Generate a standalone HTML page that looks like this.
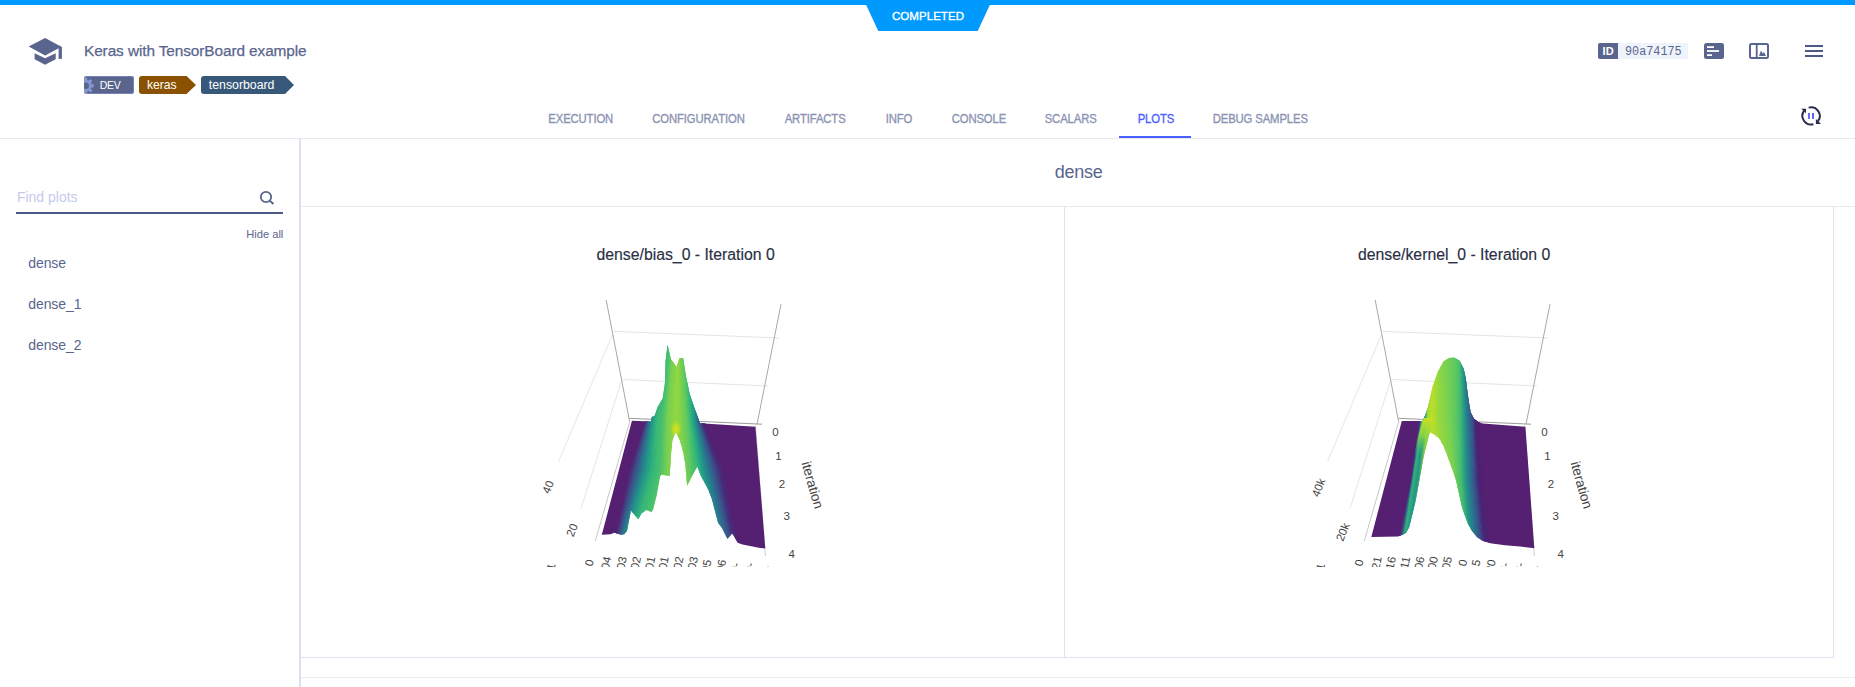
<!DOCTYPE html>
<html><head><meta charset="utf-8"><style>
html,body{margin:0;padding:0;}
body{width:1855px;height:687px;overflow:hidden;position:relative;background:#fff;font-family:'Liberation Sans', sans-serif;}
</style></head><body>
<div style="position:absolute;left:0px;top:0px;width:1855px;height:5px;background:#009aff;"></div>
<svg style="position:absolute;left:0;top:0" width="1855" height="40"><polygon points="865.7,4 990.3,4 977.7,31 878.3,31" fill="#009aff"/></svg>
<div style="position:absolute;left:528px;width:800px;text-align:center;top:10.77px;font-size:11.5px;line-height:11.5px;color:#ffffff;font-weight:400;letter-spacing:0.05px;font-family:'Liberation Sans', sans-serif;white-space:nowrap;-webkit-text-stroke:0.35px #ffffff;">COMPLETED</div>
<svg style="position:absolute;left:28px;top:36px" width="36" height="30" viewBox="0 0 36 30">
<polygon points="0.7,10.5 17.1,2.1 33.5,10.8 17.1,19.6" fill="#5a658e"/>
<polygon points="6.6,17.2 17.1,22.3 27.7,17.2 27.7,23.2 17.1,28.7 6.6,23.2" fill="#5a658e"/>
<rect x="30.6" y="10.8" width="3.3" height="12.1" fill="#5a658e"/>
</svg>
<div style="position:absolute;left:84px;top:42.76px;font-size:15.4px;line-height:15.4px;color:#5a658e;font-weight:400;letter-spacing:-0.1px;font-family:'Liberation Sans', sans-serif;white-space:nowrap;-webkit-text-stroke:0.25px #5a658e;">Keras with TensorBoard example</div>
<div style="position:absolute;left:84px;top:76px;width:50px;height:18px;background:#5a658e;border-radius:3px;box-shadow:inset 0 0 0 1px #7482bb;overflow:hidden"><svg style="position:absolute;left:-7px;top:0.5px" width="17.5" height="17.5" viewBox="0 0 16 16"><g fill="#8595cf"><circle cx="8" cy="8" r="5.6"/><rect x="6.6" y="0.6" width="2.8" height="14.8"/><rect x="0.6" y="6.6" width="14.8" height="2.8"/><rect x="6.6" y="0.6" width="2.8" height="14.8" transform="rotate(45 8 8)"/><rect x="6.6" y="0.6" width="2.8" height="14.8" transform="rotate(-45 8 8)"/></g><circle cx="8" cy="8" r="2.9" fill="#5a658e"/></svg></div>
<div style="position:absolute;left:99.7px;top:80.01px;font-size:10.5px;line-height:10.5px;color:#ffffff;font-weight:400;letter-spacing:-0.3px;font-family:'Liberation Sans', sans-serif;white-space:nowrap;">DEV</div>
<svg style="position:absolute;left:139px;top:76px" width="60" height="18"><path d="M3,0 H47.5 L57,9 L47.5,18 H3 Q0,18 0,15 V3 Q0,0 3,0 Z" fill="#8a5200"/></svg>
<div style="position:absolute;left:146.9px;top:78.87px;font-size:12.2px;line-height:12.2px;color:#ffffff;font-weight:400;letter-spacing:0px;font-family:'Liberation Sans', sans-serif;white-space:nowrap;">keras</div>
<svg style="position:absolute;left:201px;top:76px" width="95" height="18"><path d="M3,0 H84 L93,9 L84,18 H3 Q0,18 0,15 V3 Q0,0 3,0 Z" fill="#38587a"/></svg>
<div style="position:absolute;left:208.8px;top:78.79px;font-size:12.3px;line-height:12.3px;color:#ffffff;font-weight:400;letter-spacing:0px;font-family:'Liberation Sans', sans-serif;white-space:nowrap;">tensorboard</div>
<div style="position:absolute;left:1598px;top:43px;width:90px;height:16px;background:#eff3fc;border-radius:1px"></div>
<div style="position:absolute;left:1598px;top:43px;width:20px;height:16px;background:#5a658e;border-radius:2px 0 0 2px"></div>
<div style="position:absolute;left:1602.6px;top:45.59px;font-size:11px;line-height:11px;color:#ffffff;font-weight:700;letter-spacing:0px;font-family:'Liberation Sans', sans-serif;white-space:nowrap;">ID</div>
<div style="position:absolute;left:1625px;top:47.26px;font-size:11.8px;line-height:11.8px;color:#5a658e;font-weight:400;letter-spacing:0px;font-family:'Liberation Mono', monospace;white-space:nowrap;transform:scaleY(1.16);transform-origin:0 76.65%;">90a74175</div>
<svg style="position:absolute;left:1704px;top:43px" width="20" height="16"><rect x="0" y="0" width="20" height="16" rx="2.5" fill="#5a658e"/>
<rect x="3" y="3.2" width="7" height="1.8" fill="#fff"/><rect x="3" y="7.1" width="12" height="1.8" fill="#fff"/><rect x="3" y="11.2" width="5" height="1.8" fill="#fff"/></svg>
<svg style="position:absolute;left:1749px;top:43px" width="20" height="16"><rect x="1" y="1" width="18" height="14" rx="1.5" fill="none" stroke="#5a658e" stroke-width="2"/>
<rect x="6.8" y="1" width="1.8" height="14" fill="#5a658e"/><polygon points="10,13 12,7.5 13.8,10.5 15,9 17,13" fill="#5a658e"/></svg>
<svg style="position:absolute;left:1805px;top:43px" width="18" height="16"><rect x="0" y="2" width="18" height="2" fill="#4d5a86"/><rect x="0" y="7" width="18" height="2" fill="#4d5a86"/><rect x="0" y="12" width="18" height="2" fill="#4d5a86"/></svg>
<div style="position:absolute;left:548.3000000000001px;top:113.73px;font-size:11.3px;line-height:11.3px;color:#8b93b3;font-weight:400;letter-spacing:-0.12px;font-family:'Liberation Sans', sans-serif;white-space:nowrap;-webkit-text-stroke:0.3px #8b93b3;transform:scaleY(1.07);transform-origin:0 84.65%;">EXECUTION</div>
<div style="position:absolute;left:652.3000000000001px;top:113.73px;font-size:11.3px;line-height:11.3px;color:#8b93b3;font-weight:400;letter-spacing:-0.12px;font-family:'Liberation Sans', sans-serif;white-space:nowrap;-webkit-text-stroke:0.3px #8b93b3;transform:scaleY(1.07);transform-origin:0 84.65%;">CONFIGURATION</div>
<div style="position:absolute;left:784.7px;top:113.73px;font-size:11.3px;line-height:11.3px;color:#8b93b3;font-weight:400;letter-spacing:-0.12px;font-family:'Liberation Sans', sans-serif;white-space:nowrap;-webkit-text-stroke:0.3px #8b93b3;transform:scaleY(1.07);transform-origin:0 84.65%;">ARTIFACTS</div>
<div style="position:absolute;left:885.7px;top:113.73px;font-size:11.3px;line-height:11.3px;color:#8b93b3;font-weight:400;letter-spacing:-0.12px;font-family:'Liberation Sans', sans-serif;white-space:nowrap;-webkit-text-stroke:0.3px #8b93b3;transform:scaleY(1.07);transform-origin:0 84.65%;">INFO</div>
<div style="position:absolute;left:951.7px;top:113.73px;font-size:11.3px;line-height:11.3px;color:#8b93b3;font-weight:400;letter-spacing:-0.12px;font-family:'Liberation Sans', sans-serif;white-space:nowrap;-webkit-text-stroke:0.3px #8b93b3;transform:scaleY(1.07);transform-origin:0 84.65%;">CONSOLE</div>
<div style="position:absolute;left:1044.7px;top:113.73px;font-size:11.3px;line-height:11.3px;color:#8b93b3;font-weight:400;letter-spacing:-0.12px;font-family:'Liberation Sans', sans-serif;white-space:nowrap;-webkit-text-stroke:0.3px #8b93b3;transform:scaleY(1.07);transform-origin:0 84.65%;">SCALARS</div>
<div style="position:absolute;left:1137.7px;top:113.73px;font-size:11.3px;line-height:11.3px;color:#4d5eff;font-weight:400;letter-spacing:-0.12px;font-family:'Liberation Sans', sans-serif;white-space:nowrap;-webkit-text-stroke:0.3px #4d5eff;transform:scaleY(1.07);transform-origin:0 84.65%;">PLOTS</div>
<div style="position:absolute;left:1212.7px;top:113.73px;font-size:11.3px;line-height:11.3px;color:#8b93b3;font-weight:400;letter-spacing:-0.12px;font-family:'Liberation Sans', sans-serif;white-space:nowrap;-webkit-text-stroke:0.3px #8b93b3;transform:scaleY(1.07);transform-origin:0 84.65%;">DEBUG SAMPLES</div>
<div style="position:absolute;left:0px;top:138px;width:1855px;height:1px;background:#e9e9ee;"></div>
<div style="position:absolute;left:1119px;top:136px;width:72px;height:2px;background:#4d5eff;"></div>
<svg style="position:absolute;left:1799px;top:104px" width="24" height="24" viewBox="0 0 24 24">
<path d="M9.6,3.6 A8.7,8.7 0 0 1 18.9,17.3" fill="none" stroke="#272c4f" stroke-width="2"/>
<polygon points="16.9,20 16.9,15 22,20" fill="#272c4f"/>
<path d="M14.4,20.2 A8.7,8.7 0 0 1 5.1,6.7" fill="none" stroke="#272c4f" stroke-width="2"/>
<polygon points="7,4.8 2.2,4.8 7,9.3" fill="#272c4f"/>
<rect x="9.1" y="8.9" width="1.8" height="6" fill="#5b5df5"/><rect x="13.1" y="8.9" width="1.9" height="6" fill="#5b5df5"/>
</svg>
<div style="position:absolute;left:299px;top:139px;width:2px;height:548px;background:#dcdff0;"></div>
<div style="position:absolute;left:16.9px;top:190.15px;font-size:14px;line-height:14px;color:#c3cbee;font-weight:400;letter-spacing:0px;font-family:'Liberation Sans', sans-serif;white-space:nowrap;">Find plots</div>
<div style="position:absolute;left:16px;top:212px;width:267px;height:2px;background:#4d5a86;"></div>
<svg style="position:absolute;left:258px;top:189px" width="20" height="18"><circle cx="8" cy="8" r="5.2" fill="none" stroke="#5a658e" stroke-width="1.8"/><line x1="11.8" y1="11.8" x2="15.5" y2="15" stroke="#5a658e" stroke-width="2"/></svg>
<div style="position:absolute;left:-516.7px;width:800px;text-align:right;top:229.00px;font-size:11.1px;line-height:11.1px;color:#5a658e;font-weight:400;letter-spacing:0px;font-family:'Liberation Sans', sans-serif;white-space:nowrap;">Hide all</div>
<div style="position:absolute;left:28.3px;top:256.05px;font-size:14px;line-height:14px;color:#5a658e;font-weight:400;letter-spacing:-0.1px;font-family:'Liberation Sans', sans-serif;white-space:nowrap;">dense</div>
<div style="position:absolute;left:28.3px;top:297.05px;font-size:14px;line-height:14px;color:#5a658e;font-weight:400;letter-spacing:-0.1px;font-family:'Liberation Sans', sans-serif;white-space:nowrap;">dense_1</div>
<div style="position:absolute;left:28.3px;top:338.05px;font-size:14px;line-height:14px;color:#5a658e;font-weight:400;letter-spacing:-0.1px;font-family:'Liberation Sans', sans-serif;white-space:nowrap;">dense_2</div>
<div style="position:absolute;left:678.5999999999999px;width:800px;text-align:center;top:162.96px;font-size:18px;line-height:18px;color:#5a658e;font-weight:400;letter-spacing:-0.3px;font-family:'Liberation Sans', sans-serif;white-space:nowrap;">dense</div>
<div style="position:absolute;left:301px;top:206px;width:1554px;height:1px;background:#ebebeb;"></div>
<div style="position:absolute;left:1064px;top:207px;width:1px;height:450px;background:#dfe2f1;"></div>
<div style="position:absolute;left:1833px;top:207px;width:1px;height:450px;background:#dfe2f1;"></div>
<div style="position:absolute;left:301px;top:657px;width:1533px;height:1px;background:#dfe2f1;"></div>
<div style="position:absolute;left:301px;top:677px;width:1554px;height:1px;background:#ececec;"></div>
<div style="position:absolute;left:285.6px;width:800px;text-align:center;top:246.83px;font-size:15.8px;line-height:15.8px;color:#2a2f45;font-weight:400;letter-spacing:0px;font-family:'Liberation Sans', sans-serif;white-space:nowrap;-webkit-text-stroke:0.15px #2a2f45;">dense/bias_0 - Iteration 0</div>
<div style="position:absolute;left:1054.2px;width:800px;text-align:center;top:246.83px;font-size:15.8px;line-height:15.8px;color:#2a2f45;font-weight:400;letter-spacing:0px;font-family:'Liberation Sans', sans-serif;white-space:nowrap;-webkit-text-stroke:0.15px #2a2f45;">dense/kernel_0 - Iteration 0</div>
<svg style="position:absolute;left:0;top:0" width="1855" height="687" font-family="Liberation Sans, sans-serif"><defs><linearGradient id="legtop" x1="0" y1="0" x2="0" y2="1"><stop offset="0" stop-color="#c8e020" stop-opacity="1"/><stop offset="0.45" stop-color="#8fd744" stop-opacity="0.9"/><stop offset="1" stop-color="#35b779" stop-opacity="0"/></linearGradient><radialGradient id="yspot"><stop offset="0" stop-color="#dde318" stop-opacity="1"/><stop offset="0.5" stop-color="#c8e020" stop-opacity="0.7"/><stop offset="1" stop-color="#b5de2b" stop-opacity="0"/></radialGradient></defs><clipPath id="clipSa"><polygon points="631.9,420.8 651.1,421.5 651.8,417.1 654.7,415.7 657.7,407.0 662.8,398.2 664.9,383.7 665.7,360.4 667.6,345.1 670.8,358.9 676.6,366.9 679.5,358.2 683.1,358.2 686.0,376.4 689.7,393.9 694.0,407.0 696.2,412.8 699.9,423.2 755.4,426.8 765.3,548.4 760.0,547.9 742.5,544.5 737.6,542.5 732.3,533.3 727.4,538.7 722.1,528.0 718.2,523.1 711.8,498.7 708.2,489.5 700.8,475.7 697.2,466.6 691.7,476.7 687.1,485.8 685.2,462.9 682.5,449.2 679.7,440.0 675.7,431.8 672.4,440.0 671.0,453.7 669.7,475.7 667.8,475.7 661.4,474.4 660.0,476.7 656.8,495.0 653.2,509.6 651.3,512.0 646.4,510.0 641.6,513.4 638.2,519.3 630.9,510.5 627.0,530.9 624.1,534.3 621.2,534.8 614.4,532.8 610.5,534.3 601.8,534.8"/></clipPath><clipPath id="clipBa"><rect x="300" y="280" width="760" height="287"/></clipPath><line x1="614" y1="331.4" x2="779" y2="338" stroke="#e3e3e3" stroke-width="1"/><line x1="622.8" y1="379.5" x2="768" y2="386" stroke="#e3e3e3" stroke-width="1"/><line x1="612.5" y1="334.6" x2="558.6" y2="461.4" stroke="#e6e6e6" stroke-width="1"/><line x1="621.8" y1="379.8" x2="581" y2="508.4" stroke="#e6e6e6" stroke-width="1"/><line x1="630" y1="420.6" x2="595.3" y2="541" stroke="#c8c8c8" stroke-width="1"/><line x1="755.5" y1="425.5" x2="765.4" y2="556" stroke="#cfcfcf" stroke-width="1"/><line x1="606.2" y1="300" x2="629.5" y2="421" stroke="#a8a8a8" stroke-width="1"/><line x1="781" y1="304.2" x2="757" y2="424.3" stroke="#a8a8a8" stroke-width="1"/><line x1="629.5" y1="418.3" x2="762" y2="424.2" stroke="#9a9a9a" stroke-width="1"/><g clip-path="url(#clipSa)"><polygon points="599.7,330.0 599.7,360.0 599.7,421.0 579.7,470.0 559.7,535.0 548.9,570.0 608.8,570.0 616.3,535.0 630.3,470.0 646.3,421.0 640.3,360.0 637.3,330.0" fill="#552071" stroke="#552071" stroke-width="0.6"/><polygon points="636.7,330.0 639.7,360.0 645.7,421.0 629.7,470.0 615.7,535.0 608.2,570.0 609.5,570.0 617.3,535.0 631.8,470.0 646.8,421.0 644.0,360.0 642.7,330.0" fill="#522674" stroke="#522674" stroke-width="0.6"/><polygon points="642.1,330.0 643.5,360.0 646.2,421.0 631.2,470.0 616.7,535.0 608.9,570.0 610.2,570.0 618.3,535.0 633.3,470.0 647.3,421.0 647.8,360.0 648.0,330.0" fill="#4b337b" stroke="#4b337b" stroke-width="0.6"/><polygon points="647.4,330.0 647.2,360.0 646.7,421.0 632.7,470.0 617.7,535.0 609.6,570.0 611.0,570.0 619.3,535.0 634.8,470.0 647.8,421.0 651.5,360.0 653.4,330.0" fill="#453f81" stroke="#453f81" stroke-width="0.6"/><polygon points="652.8,330.0 651.0,360.0 647.2,421.0 634.2,470.0 618.7,535.0 610.4,570.0 611.7,570.0 620.3,535.0 636.3,470.0 648.3,421.0 655.3,360.0 658.7,330.0" fill="#3e4c88" stroke="#3e4c88" stroke-width="0.6"/><polygon points="658.1,330.0 654.7,360.0 647.7,421.0 635.7,470.0 619.7,535.0 611.1,570.0 612.8,570.0 621.8,535.0 638.5,470.0 649.3,421.0 656.8,360.0 660.5,330.0" fill="#385a8b" stroke="#385a8b" stroke-width="0.6"/><polygon points="659.9,330.0 656.2,360.0 648.7,421.0 638.0,470.0 621.2,535.0 612.2,570.0 613.9,570.0 623.3,535.0 640.8,470.0 650.3,421.0 658.3,360.0 662.2,330.0" fill="#316a8b" stroke="#316a8b" stroke-width="0.6"/><polygon points="661.6,330.0 657.7,360.0 649.7,421.0 640.2,470.0 622.7,535.0 613.3,570.0 615.0,570.0 624.8,535.0 643.0,470.0 651.3,421.0 659.8,360.0 664.0,330.0" fill="#2b798c" stroke="#2b798c" stroke-width="0.6"/><polygon points="663.4,330.0 659.2,360.0 650.7,421.0 642.5,470.0 624.2,535.0 614.4,570.0 616.1,570.0 626.3,535.0 645.3,470.0 652.3,421.0 661.3,360.0 665.7,330.0" fill="#24898c" stroke="#24898c" stroke-width="0.6"/><polygon points="665.1,330.0 660.7,360.0 651.7,421.0 644.7,470.0 625.7,535.0 615.5,570.0 617.9,570.0 628.3,535.0 647.5,470.0 653.5,421.0 662.3,360.0 666.6,330.0" fill="#24968a" stroke="#24968a" stroke-width="0.6"/><polygon points="666.0,330.0 661.7,360.0 653.0,421.0 647.0,470.0 627.7,535.0 617.3,570.0 619.8,570.0 630.3,535.0 649.8,470.0 654.8,421.0 663.3,360.0 667.5,330.0" fill="#289f85" stroke="#289f85" stroke-width="0.6"/><polygon points="666.9,330.0 662.7,360.0 654.2,421.0 649.2,470.0 629.7,535.0 619.2,570.0 621.7,570.0 632.3,535.0 652.0,470.0 656.0,421.0 664.3,360.0 668.4,330.0" fill="#2ea980" stroke="#2ea980" stroke-width="0.6"/><polygon points="667.8,330.0 663.7,360.0 655.5,421.0 651.5,470.0 631.7,535.0 621.1,570.0 623.5,570.0 634.3,535.0 654.3,470.0 657.3,421.0 665.3,360.0 669.2,330.0" fill="#32b27b" stroke="#32b27b" stroke-width="0.6"/><polygon points="668.6,330.0 664.7,360.0 656.7,421.0 653.7,470.0 633.7,535.0 622.9,570.0 627.2,570.0 637.3,535.0 656.0,470.0 658.8,421.0 666.3,360.0 670.0,330.0" fill="#38b878" stroke="#38b878" stroke-width="0.6"/><polygon points="669.4,330.0 665.7,360.0 658.2,421.0 655.5,470.0 636.7,535.0 626.6,570.0 630.9,570.0 640.3,535.0 657.8,470.0 660.3,421.0 667.3,360.0 670.7,330.0" fill="#3dbb74" stroke="#3dbb74" stroke-width="0.6"/><polygon points="670.1,330.0 666.7,360.0 659.7,421.0 657.2,470.0 639.7,535.0 630.3,570.0 634.5,570.0 643.3,535.0 659.5,470.0 661.8,421.0 668.3,360.0 671.5,330.0" fill="#42bd72" stroke="#42bd72" stroke-width="0.6"/><polygon points="670.9,330.0 667.7,360.0 661.2,421.0 659.0,470.0 642.7,535.0 634.0,570.0 638.2,570.0 646.3,535.0 661.3,470.0 663.3,421.0 669.3,360.0 672.3,330.0" fill="#47c06e" stroke="#47c06e" stroke-width="0.6"/><polygon points="671.7,330.0 668.7,360.0 662.7,421.0 660.7,470.0 645.7,535.0 637.6,570.0 644.2,570.0 650.8,535.0 663.0,470.0 664.5,421.0 670.3,360.0 673.1,330.0" fill="#50c36a" stroke="#50c36a" stroke-width="0.6"/><polygon points="672.5,330.0 669.7,360.0 664.0,421.0 662.5,470.0 650.2,535.0 643.6,570.0 650.2,570.0 655.3,535.0 664.8,470.0 665.8,421.0 671.3,360.0 674.0,330.0" fill="#5cc762" stroke="#5cc762" stroke-width="0.6"/><polygon points="673.4,330.0 670.7,360.0 665.2,421.0 664.2,470.0 654.7,535.0 649.6,570.0 656.2,570.0 659.8,535.0 666.5,470.0 667.0,421.0 672.3,360.0 674.9,330.0" fill="#68cb5c" stroke="#68cb5c" stroke-width="0.6"/><polygon points="674.3,330.0 671.7,360.0 666.5,421.0 666.0,470.0 659.2,535.0 655.6,570.0 662.1,570.0 664.3,535.0 668.3,470.0 668.3,421.0 673.3,360.0 675.8,330.0" fill="#74cf54" stroke="#74cf54" stroke-width="0.6"/><polygon points="675.2,330.0 672.7,360.0 667.7,421.0 667.7,470.0 663.7,535.0 661.5,570.0 663.9,570.0 665.8,535.0 669.3,470.0 669.5,421.0 674.0,360.0 676.3,330.0" fill="#7cd250" stroke="#7cd250" stroke-width="0.6"/><polygon points="675.7,330.0 673.5,360.0 669.0,421.0 668.7,470.0 665.2,535.0 663.3,570.0 665.7,570.0 667.3,535.0 670.3,470.0 670.8,421.0 674.8,360.0 676.8,330.0" fill="#7ed24e" stroke="#7ed24e" stroke-width="0.6"/><polygon points="676.2,330.0 674.2,360.0 670.2,421.0 669.7,470.0 666.7,535.0 665.1,570.0 667.5,570.0 668.8,535.0 671.3,470.0 672.0,421.0 675.5,360.0 677.3,330.0" fill="#82d44c" stroke="#82d44c" stroke-width="0.6"/><polygon points="676.7,330.0 675.0,360.0 671.5,421.0 670.7,470.0 668.2,535.0 666.9,570.0 669.2,570.0 670.3,535.0 672.3,470.0 673.3,421.0 676.3,360.0 677.8,330.0" fill="#84d44a" stroke="#84d44a" stroke-width="0.6"/><polygon points="677.2,330.0 675.7,360.0 672.7,421.0 671.7,470.0 669.7,535.0 668.6,570.0 671.0,570.0 671.8,535.0 673.3,470.0 674.3,421.0 677.0,360.0 678.4,330.0" fill="#88d548" stroke="#88d548" stroke-width="0.6"/><polygon points="677.8,330.0 676.5,360.0 673.7,421.0 672.7,470.0 671.2,535.0 670.4,570.0 672.8,570.0 673.3,535.0 674.3,470.0 675.3,421.0 677.8,360.0 679.0,330.0" fill="#8cd646" stroke="#8cd646" stroke-width="0.6"/><polygon points="678.4,330.0 677.2,360.0 674.7,421.0 673.7,470.0 672.7,535.0 672.2,570.0 674.5,570.0 674.8,535.0 675.3,470.0 676.3,421.0 678.5,360.0 679.7,330.0" fill="#8fd743" stroke="#8fd743" stroke-width="0.6"/><polygon points="679.1,330.0 678.0,360.0 675.7,421.0 674.7,470.0 674.2,535.0 673.9,570.0 676.3,570.0 676.3,535.0 676.3,470.0 677.3,421.0 679.3,360.0 680.3,330.0" fill="#93d841" stroke="#93d841" stroke-width="0.6"/><polygon points="679.7,330.0 678.7,360.0 676.7,421.0 675.7,470.0 675.7,535.0 675.7,570.0 682.0,570.0 680.8,535.0 678.5,470.0 678.8,421.0 679.8,360.0 680.3,330.0" fill="#92d742" stroke="#92d742" stroke-width="0.6"/><polygon points="679.7,330.0 679.2,360.0 678.2,421.0 678.0,470.0 680.2,535.0 681.4,570.0 687.7,570.0 685.3,535.0 680.8,470.0 680.3,421.0 680.3,360.0 680.3,330.0" fill="#8bd546" stroke="#8bd546" stroke-width="0.6"/><polygon points="679.7,330.0 679.7,360.0 679.7,421.0 680.2,470.0 684.7,535.0 687.1,570.0 693.4,570.0 689.8,535.0 683.0,470.0 681.8,421.0 680.8,360.0 680.3,330.0" fill="#84d44b" stroke="#84d44b" stroke-width="0.6"/><polygon points="679.7,330.0 680.2,360.0 681.2,421.0 682.5,470.0 689.2,535.0 692.8,570.0 699.1,570.0 694.3,535.0 685.3,470.0 683.3,421.0 681.3,360.0 680.3,330.0" fill="#7dd24f" stroke="#7dd24f" stroke-width="0.6"/><polygon points="679.7,330.0 680.7,360.0 682.7,421.0 684.7,470.0 693.7,535.0 698.5,570.0 701.4,570.0 696.3,535.0 686.8,470.0 684.5,421.0 682.0,360.0 680.8,330.0" fill="#76d053" stroke="#76d053" stroke-width="0.6"/><polygon points="680.2,330.0 681.5,360.0 684.0,421.0 686.2,470.0 695.7,535.0 700.8,570.0 703.7,570.0 698.3,535.0 688.3,470.0 685.8,421.0 682.8,360.0 681.3,330.0" fill="#70ce57" stroke="#70ce57" stroke-width="0.6"/><polygon points="680.7,330.0 682.2,360.0 685.2,421.0 687.7,470.0 697.7,535.0 703.1,570.0 706.0,570.0 700.3,535.0 689.8,470.0 687.0,421.0 683.5,360.0 681.8,330.0" fill="#68cc5c" stroke="#68cc5c" stroke-width="0.6"/><polygon points="681.2,330.0 683.0,360.0 686.5,421.0 689.2,470.0 699.7,535.0 705.4,570.0 708.2,570.0 702.3,535.0 691.3,470.0 688.3,421.0 684.3,360.0 682.3,330.0" fill="#62ca60" stroke="#62ca60" stroke-width="0.6"/><polygon points="681.7,330.0 683.7,360.0 687.7,421.0 690.7,470.0 701.7,535.0 707.6,570.0 711.0,570.0 704.8,535.0 693.3,470.0 689.3,421.0 685.3,360.0 683.3,330.0" fill="#58c665" stroke="#58c665" stroke-width="0.6"/><polygon points="682.7,330.0 684.7,360.0 688.7,421.0 692.7,470.0 704.2,535.0 710.4,570.0 713.8,570.0 707.3,535.0 695.3,470.0 690.3,421.0 686.3,360.0 684.3,330.0" fill="#4cc16c" stroke="#4cc16c" stroke-width="0.6"/><polygon points="683.7,330.0 685.7,360.0 689.7,421.0 694.7,470.0 706.7,535.0 713.2,570.0 716.5,570.0 709.8,535.0 697.3,470.0 691.3,421.0 687.3,360.0 685.3,330.0" fill="#41bc72" stroke="#41bc72" stroke-width="0.6"/><polygon points="684.7,330.0 686.7,360.0 690.7,421.0 696.7,470.0 709.2,535.0 715.9,570.0 719.3,570.0 712.3,535.0 699.3,470.0 692.3,421.0 688.3,360.0 686.3,330.0" fill="#35b779" stroke="#35b779" stroke-width="0.6"/><polygon points="685.7,330.0 687.7,360.0 691.7,421.0 698.7,470.0 711.7,535.0 718.7,570.0 721.2,570.0 714.0,535.0 700.8,470.0 693.3,421.0 689.3,360.0 687.3,330.0" fill="#2db07e" stroke="#2db07e" stroke-width="0.6"/><polygon points="686.7,330.0 688.7,360.0 692.7,421.0 700.2,470.0 713.5,535.0 720.6,570.0 723.1,570.0 715.8,535.0 702.3,470.0 694.3,421.0 690.3,360.0 688.3,330.0" fill="#2aa782" stroke="#2aa782" stroke-width="0.6"/><polygon points="687.7,330.0 689.7,360.0 693.7,421.0 701.7,470.0 715.2,535.0 722.5,570.0 725.0,570.0 717.5,535.0 703.8,470.0 695.3,421.0 691.3,360.0 689.3,330.0" fill="#269e86" stroke="#269e86" stroke-width="0.6"/><polygon points="688.7,330.0 690.7,360.0 694.7,421.0 703.2,470.0 717.0,535.0 724.4,570.0 726.8,570.0 719.3,535.0 705.3,470.0 696.3,421.0 692.3,360.0 690.3,330.0" fill="#23958a" stroke="#23958a" stroke-width="0.6"/><polygon points="689.7,330.0 691.7,360.0 695.7,421.0 704.7,470.0 718.7,535.0 726.2,570.0 728.1,570.0 720.5,535.0 706.5,470.0 696.8,421.0 693.3,360.0 691.6,330.0" fill="#228d8c" stroke="#228d8c" stroke-width="0.6"/><polygon points="691.0,330.0 692.7,360.0 696.2,421.0 706.0,470.0 720.0,535.0 727.5,570.0 729.3,570.0 721.8,535.0 707.8,470.0 697.3,421.0 694.3,360.0 692.8,330.0" fill="#25858d" stroke="#25858d" stroke-width="0.6"/><polygon points="692.2,330.0 693.7,360.0 696.7,421.0 707.2,470.0 721.2,535.0 728.7,570.0 730.6,570.0 723.0,535.0 709.0,470.0 697.8,421.0 695.3,360.0 694.1,330.0" fill="#287e8d" stroke="#287e8d" stroke-width="0.6"/><polygon points="693.5,330.0 694.7,360.0 697.2,421.0 708.5,470.0 722.5,535.0 730.0,570.0 731.8,570.0 724.3,535.0 710.3,470.0 698.3,421.0 696.3,360.0 695.3,330.0" fill="#2b768e" stroke="#2b768e" stroke-width="0.6"/><polygon points="694.7,330.0 695.7,360.0 697.7,421.0 709.7,470.0 723.7,535.0 731.2,570.0 733.1,570.0 725.5,535.0 711.5,470.0 698.8,421.0 697.3,360.0 696.6,330.0" fill="#2e6e8e" stroke="#2e6e8e" stroke-width="0.6"/><polygon points="696.0,330.0 696.7,360.0 698.2,421.0 711.0,470.0 725.0,535.0 732.5,570.0 734.3,570.0 726.8,535.0 712.8,470.0 699.3,421.0 698.3,360.0 697.8,330.0" fill="#32668d" stroke="#32668d" stroke-width="0.6"/><polygon points="697.2,330.0 697.7,360.0 698.7,421.0 712.2,470.0 726.2,535.0 733.7,570.0 735.6,570.0 728.0,535.0 714.0,470.0 699.8,421.0 699.3,360.0 699.1,330.0" fill="#355e8c" stroke="#355e8c" stroke-width="0.6"/><polygon points="698.5,330.0 698.7,360.0 699.2,421.0 713.5,470.0 727.5,535.0 735.0,570.0 736.8,570.0 729.3,535.0 715.3,470.0 700.3,421.0 700.3,360.0 700.3,330.0" fill="#39568b" stroke="#39568b" stroke-width="0.6"/><polygon points="699.7,330.0 699.7,360.0 699.7,421.0 714.7,470.0 728.7,535.0 736.2,570.0 737.7,570.0 730.3,535.0 716.5,470.0 700.8,421.0 701.0,360.0 701.2,330.0" fill="#3c4d89" stroke="#3c4d89" stroke-width="0.6"/><polygon points="700.6,330.0 700.5,360.0 700.2,421.0 716.0,470.0 729.7,535.0 737.1,570.0 738.6,570.0 731.3,535.0 717.8,470.0 701.3,421.0 701.8,360.0 702.0,330.0" fill="#404485" stroke="#404485" stroke-width="0.6"/><polygon points="701.4,330.0 701.2,360.0 700.7,421.0 717.2,470.0 730.7,535.0 738.0,570.0 739.4,570.0 732.3,535.0 719.0,470.0 701.8,421.0 702.5,360.0 702.9,330.0" fill="#423b81" stroke="#423b81" stroke-width="0.6"/><polygon points="702.3,330.0 702.0,360.0 701.2,421.0 718.5,470.0 731.7,535.0 738.8,570.0 740.3,570.0 733.3,535.0 720.3,470.0 702.3,421.0 703.3,360.0 703.8,330.0" fill="#46327d" stroke="#46327d" stroke-width="0.6"/><polygon points="703.2,330.0 702.7,360.0 701.7,421.0 719.7,470.0 732.7,535.0 739.7,570.0 741.5,570.0 734.5,535.0 721.5,470.0 702.8,421.0 704.0,360.0 704.7,330.0" fill="#492b7a" stroke="#492b7a" stroke-width="0.6"/><polygon points="704.1,330.0 703.5,360.0 702.2,421.0 721.0,470.0 734.0,535.0 741.0,570.0 742.8,570.0 735.8,535.0 722.8,470.0 703.3,421.0 704.8,360.0 705.5,330.0" fill="#4c2877" stroke="#4c2877" stroke-width="0.6"/><polygon points="704.9,330.0 704.2,360.0 702.7,421.0 722.2,470.0 735.2,535.0 742.2,570.0 744.0,570.0 737.0,535.0 724.0,470.0 703.8,421.0 705.5,360.0 706.4,330.0" fill="#502575" stroke="#502575" stroke-width="0.6"/><polygon points="705.8,330.0 705.0,360.0 703.2,421.0 723.5,470.0 736.5,535.0 743.5,570.0 745.3,570.0 738.3,535.0 725.3,470.0 704.3,421.0 706.3,360.0 707.3,330.0" fill="#532272" stroke="#532272" stroke-width="0.6"/><polygon points="706.7,330.0 705.7,360.0 703.7,421.0 724.7,470.0 737.7,535.0 744.7,570.0 805.7,570.0 800.3,535.0 790.3,470.0 780.3,421.0 780.3,360.0 780.3,330.0" fill="#552071" stroke="#552071" stroke-width="0.6"/><ellipse cx="676" cy="429" rx="6" ry="9" fill="url(#yspot)"/></g><text x="775.4" y="435.59999999999997" font-size="11.5" fill="#444444" text-anchor="middle">0</text><text x="778.5" y="460.4" font-size="11.5" fill="#444444" text-anchor="middle">1</text><text x="782" y="488.3" font-size="11.5" fill="#444444" text-anchor="middle">2</text><text x="786.6" y="520.2" font-size="11.5" fill="#444444" text-anchor="middle">3</text><text x="791.7" y="557.6" font-size="11.5" fill="#444444" text-anchor="middle">4</text><text transform="translate(812.7,485) rotate(74)" x="0" y="4.8" font-size="13.6" fill="#444444" text-anchor="middle">iteration</text><text transform="translate(548,487) rotate(-68)" x="0" y="4" font-size="11.5" fill="#444444" text-anchor="middle">40</text><text transform="translate(572,530) rotate(-68)" x="0" y="4" font-size="11.5" fill="#444444" text-anchor="middle">20</text><g clip-path="url(#clipBa)"><text transform="translate(555.6,564.5) rotate(-78)" x="0" y="0" font-size="11.5" fill="#444444" text-anchor="end">−1</text><text transform="translate(593.8,560.5) rotate(-78)" x="0" y="0" font-size="11.5" fill="#444444" text-anchor="end">0</text><text transform="translate(611.3,557.5) rotate(-78)" x="0" y="0" font-size="11.5" fill="#444444" text-anchor="end">−0.04</text><text transform="translate(626.8,557.5) rotate(-78)" x="0" y="0" font-size="11.5" fill="#444444" text-anchor="end">−0.03</text><text transform="translate(641,557.5) rotate(-78)" x="0" y="0" font-size="11.5" fill="#444444" text-anchor="end">−0.02</text><text transform="translate(655.3,557.5) rotate(-78)" x="0" y="0" font-size="11.5" fill="#444444" text-anchor="end">−0.01</text><text transform="translate(668.8,557.5) rotate(-78)" x="0" y="0" font-size="11.5" fill="#444444" text-anchor="end">0.01</text><text transform="translate(683.7,557.5) rotate(-78)" x="0" y="0" font-size="11.5" fill="#444444" text-anchor="end">0.02</text><text transform="translate(698,557.5) rotate(-78)" x="0" y="0" font-size="11.5" fill="#444444" text-anchor="end">0.03</text><text transform="translate(711.5,560.5) rotate(-78)" x="0" y="0" font-size="11.5" fill="#444444" text-anchor="end">0.05</text><text transform="translate(726.4,560.5) rotate(-78)" x="0" y="0" font-size="11.5" fill="#444444" text-anchor="end">0.06</text><text transform="translate(740,563.5) rotate(-78)" x="0" y="0" font-size="11.5" fill="#444444" text-anchor="end">0.0-</text><text transform="translate(754.2,563.5) rotate(-78)" x="0" y="0" font-size="11.5" fill="#444444" text-anchor="end">0.0-</text><text transform="translate(769,565.5) rotate(-78)" x="0" y="0" font-size="11.5" fill="#444444" text-anchor="end">0.0.</text></g><clipPath id="clipSb"><polygon points="1401.8,421.0 1422.7,421.0 1425.3,415.0 1428.1,406.8 1432.5,387.1 1437.9,371.8 1443.4,361.5 1448.8,357.9 1454.3,357.6 1459.8,360.9 1463.6,368.6 1465.8,378.4 1467.4,391.5 1469.0,402.4 1470.7,412.2 1474.0,418.8 1478.3,422.0 1482.7,423.6 1525.4,426.7 1534.3,548.2 1520.0,546.6 1505.0,545.2 1492.0,543.6 1483.0,541.0 1477.0,537.0 1472.0,531.0 1468.0,524.0 1465.0,516.0 1462.0,507.0 1460.0,498.0 1456.0,480.0 1448.9,460.0 1443.7,446.3 1439.3,438.4 1434.9,434.9 1429.8,432.0 1423.6,456.4 1419.1,481.8 1415.5,501.8 1411.8,516.4 1409.1,527.3 1406.0,533.0 1398.2,536.4 1371.3,537.0"/></clipPath><clipPath id="clipBb"><rect x="1069" y="280" width="760" height="287"/></clipPath><line x1="1383" y1="331.4" x2="1548" y2="338" stroke="#e3e3e3" stroke-width="1"/><line x1="1391.8" y1="379.5" x2="1537" y2="386" stroke="#e3e3e3" stroke-width="1"/><line x1="1381.5" y1="334.6" x2="1327.6" y2="461.4" stroke="#e6e6e6" stroke-width="1"/><line x1="1390.8" y1="379.8" x2="1350" y2="508.4" stroke="#e6e6e6" stroke-width="1"/><line x1="1399" y1="420.6" x2="1364.3" y2="541" stroke="#c8c8c8" stroke-width="1"/><line x1="1524.5" y1="425.5" x2="1534.4" y2="556" stroke="#cfcfcf" stroke-width="1"/><line x1="1375.2" y1="300" x2="1398.5" y2="421" stroke="#a8a8a8" stroke-width="1"/><line x1="1550" y1="304.2" x2="1526" y2="424.3" stroke="#a8a8a8" stroke-width="1"/><line x1="1398.5" y1="418.3" x2="1531" y2="424.2" stroke="#9a9a9a" stroke-width="1"/><g clip-path="url(#clipSb)"><polygon points="1379.7,330.0 1379.7,360.0 1379.7,421.0 1359.7,480.0 1339.7,537.0 1328.1,570.0 1393.9,570.0 1400.3,537.0 1411.3,480.0 1419.8,421.0 1400.3,360.0 1390.7,330.0" fill="#552071" stroke="#552071" stroke-width="0.6"/><polygon points="1390.1,330.0 1399.7,360.0 1419.2,421.0 1410.7,480.0 1399.7,537.0 1393.3,570.0 1394.5,570.0 1400.8,537.0 1411.7,480.0 1420.2,421.0 1402.8,360.0 1394.3,330.0" fill="#522674" stroke="#522674" stroke-width="0.6"/><polygon points="1393.7,330.0 1402.2,360.0 1419.6,421.0 1411.1,480.0 1400.2,537.0 1393.9,570.0 1395.1,570.0 1401.3,537.0 1412.0,480.0 1420.5,421.0 1405.3,360.0 1397.8,330.0" fill="#4b337b" stroke="#4b337b" stroke-width="0.6"/><polygon points="1397.2,330.0 1404.7,360.0 1420.0,421.0 1411.5,480.0 1400.7,537.0 1394.5,570.0 1395.6,570.0 1401.8,537.0 1412.4,480.0 1420.9,421.0 1407.8,360.0 1401.3,330.0" fill="#453f81" stroke="#453f81" stroke-width="0.6"/><polygon points="1400.7,330.0 1407.2,360.0 1420.3,421.0 1411.8,480.0 1401.2,537.0 1395.0,570.0 1396.2,570.0 1402.3,537.0 1412.8,480.0 1421.3,421.0 1410.3,360.0 1404.9,330.0" fill="#3e4c88" stroke="#3e4c88" stroke-width="0.6"/><polygon points="1404.3,330.0 1409.7,360.0 1420.7,421.0 1412.2,480.0 1401.7,537.0 1395.6,570.0 1397.3,570.0 1403.0,537.0 1413.0,480.0 1421.7,421.0 1411.5,360.0 1406.6,330.0" fill="#3a5f89" stroke="#3a5f89" stroke-width="0.6"/><polygon points="1406.0,330.0 1411.0,360.0 1421.1,421.0 1412.5,480.0 1402.5,537.0 1396.7,570.0 1398.3,570.0 1403.8,537.0 1413.3,480.0 1422.0,421.0 1412.8,360.0 1408.3,330.0" fill="#397884" stroke="#397884" stroke-width="0.6"/><polygon points="1407.7,330.0 1412.2,360.0 1421.5,421.0 1412.7,480.0 1403.2,537.0 1397.7,570.0 1399.3,570.0 1404.5,537.0 1413.5,480.0 1422.4,421.0 1414.0,360.0 1409.9,330.0" fill="#379180" stroke="#379180" stroke-width="0.6"/><polygon points="1409.3,330.0 1413.5,360.0 1421.8,421.0 1413.0,480.0 1404.0,537.0 1398.7,570.0 1400.4,570.0 1405.3,537.0 1413.8,480.0 1422.8,421.0 1415.3,360.0 1411.6,330.0" fill="#36aa7b" stroke="#36aa7b" stroke-width="0.6"/><polygon points="1411.0,330.0 1414.7,360.0 1422.2,421.0 1413.2,480.0 1404.7,537.0 1399.8,570.0 1401.3,570.0 1406.3,537.0 1414.9,480.0 1423.7,421.0 1416.5,360.0 1413.0,330.0" fill="#32b27b" stroke="#32b27b" stroke-width="0.6"/><polygon points="1412.4,330.0 1416.0,360.0 1423.1,421.0 1414.3,480.0 1405.7,537.0 1400.7,570.0 1402.2,570.0 1407.3,537.0 1416.0,480.0 1424.5,421.0 1417.8,360.0 1414.5,330.0" fill="#2ea980" stroke="#2ea980" stroke-width="0.6"/><polygon points="1413.9,330.0 1417.2,360.0 1424.0,421.0 1415.5,480.0 1406.7,537.0 1401.6,570.0 1403.2,570.0 1408.3,537.0 1417.2,480.0 1425.4,421.0 1419.0,360.0 1415.9,330.0" fill="#289f85" stroke="#289f85" stroke-width="0.6"/><polygon points="1415.3,330.0 1418.5,360.0 1424.8,421.0 1416.6,480.0 1407.7,537.0 1402.6,570.0 1404.1,570.0 1409.3,537.0 1418.3,480.0 1426.3,421.0 1420.3,360.0 1417.3,330.0" fill="#24968a" stroke="#24968a" stroke-width="0.6"/><polygon points="1416.7,330.0 1419.7,360.0 1425.7,421.0 1417.7,480.0 1408.7,537.0 1403.5,570.0 1406.9,570.0 1411.5,537.0 1419.5,480.0 1426.8,421.0 1422.8,360.0 1420.8,330.0" fill="#319a82" stroke="#319a82" stroke-width="0.6"/><polygon points="1420.2,330.0 1422.2,360.0 1426.2,421.0 1419.0,480.0 1411.0,537.0 1406.3,570.0 1409.7,570.0 1413.8,537.0 1420.8,480.0 1427.3,421.0 1425.3,360.0 1424.3,330.0" fill="#51ac6d" stroke="#51ac6d" stroke-width="0.6"/><polygon points="1423.7,330.0 1424.7,360.0 1426.7,421.0 1420.2,480.0 1413.2,537.0 1409.1,570.0 1412.6,570.0 1416.0,537.0 1422.0,480.0 1427.8,421.0 1427.8,360.0 1427.8,330.0" fill="#70bf58" stroke="#70bf58" stroke-width="0.6"/><polygon points="1427.2,330.0 1427.2,360.0 1427.2,421.0 1421.5,480.0 1415.5,537.0 1412.0,570.0 1415.4,570.0 1418.3,537.0 1423.3,480.0 1428.3,421.0 1430.3,360.0 1431.3,330.0" fill="#90d143" stroke="#90d143" stroke-width="0.6"/><polygon points="1430.7,330.0 1429.7,360.0 1427.7,421.0 1422.7,480.0 1417.7,537.0 1414.8,570.0 1418.0,570.0 1420.8,537.0 1425.5,480.0 1429.3,421.0 1431.0,360.0 1431.9,330.0" fill="#a4db36" stroke="#a4db36" stroke-width="0.6"/><polygon points="1431.3,330.0 1430.5,360.0 1428.7,421.0 1425.0,480.0 1420.2,537.0 1417.5,570.0 1420.7,570.0 1423.3,537.0 1427.8,480.0 1430.3,421.0 1431.8,360.0 1432.5,330.0" fill="#acdc32" stroke="#acdc32" stroke-width="0.6"/><polygon points="1431.9,330.0 1431.2,360.0 1429.7,421.0 1427.2,480.0 1422.7,537.0 1420.1,570.0 1423.3,570.0 1425.8,537.0 1430.0,480.0 1431.3,421.0 1432.5,360.0 1433.2,330.0" fill="#b4dd2c" stroke="#b4dd2c" stroke-width="0.6"/><polygon points="1432.6,330.0 1432.0,360.0 1430.7,421.0 1429.5,480.0 1425.2,537.0 1422.7,570.0 1426.0,570.0 1428.3,537.0 1432.3,480.0 1432.3,421.0 1433.3,360.0 1433.8,330.0" fill="#bcde28" stroke="#bcde28" stroke-width="0.6"/><polygon points="1433.2,330.0 1432.7,360.0 1431.7,421.0 1431.7,480.0 1427.7,537.0 1425.4,570.0 1431.6,570.0 1433.0,537.0 1435.5,480.0 1434.3,421.0 1434.5,360.0 1434.7,330.0" fill="#bbde28" stroke="#bbde28" stroke-width="0.6"/><polygon points="1434.1,330.0 1434.0,360.0 1433.7,421.0 1435.0,480.0 1432.5,537.0 1431.0,570.0 1437.2,570.0 1437.8,537.0 1438.8,480.0 1436.3,421.0 1435.8,360.0 1435.6,330.0" fill="#b0dc2f" stroke="#b0dc2f" stroke-width="0.6"/><polygon points="1435.0,330.0 1435.2,360.0 1435.7,421.0 1438.2,480.0 1437.2,537.0 1436.6,570.0 1442.8,570.0 1442.5,537.0 1442.0,480.0 1438.3,421.0 1437.0,360.0 1436.4,330.0" fill="#a5db36" stroke="#a5db36" stroke-width="0.6"/><polygon points="1435.8,330.0 1436.5,360.0 1437.7,421.0 1441.5,480.0 1442.0,537.0 1442.2,570.0 1448.5,570.0 1447.3,537.0 1445.3,480.0 1440.3,421.0 1438.3,360.0 1437.3,330.0" fill="#9ad93d" stroke="#9ad93d" stroke-width="0.6"/><polygon points="1436.7,330.0 1437.7,360.0 1439.7,421.0 1444.7,480.0 1446.7,537.0 1447.9,570.0 1451.4,570.0 1450.0,537.0 1447.8,480.0 1442.8,421.0 1440.3,360.0 1439.1,330.0" fill="#92d742" stroke="#92d742" stroke-width="0.6"/><polygon points="1438.5,330.0 1439.7,360.0 1442.2,421.0 1447.2,480.0 1449.5,537.0 1450.8,570.0 1454.2,570.0 1452.8,537.0 1450.3,480.0 1445.3,421.0 1442.3,360.0 1440.8,330.0" fill="#8bd546" stroke="#8bd546" stroke-width="0.6"/><polygon points="1440.2,330.0 1441.7,360.0 1444.7,421.0 1449.7,480.0 1452.2,537.0 1453.6,570.0 1457.1,570.0 1455.5,537.0 1452.8,480.0 1447.8,421.0 1444.3,360.0 1442.6,330.0" fill="#84d44b" stroke="#84d44b" stroke-width="0.6"/><polygon points="1442.0,330.0 1443.7,360.0 1447.2,421.0 1452.2,480.0 1455.0,537.0 1456.5,570.0 1460.0,570.0 1458.3,537.0 1455.3,480.0 1450.3,421.0 1446.3,360.0 1444.3,330.0" fill="#7dd24f" stroke="#7dd24f" stroke-width="0.6"/><polygon points="1443.7,330.0 1445.7,360.0 1449.7,421.0 1454.7,480.0 1457.7,537.0 1459.4,570.0 1461.2,570.0 1459.3,537.0 1456.0,480.0 1451.8,421.0 1448.8,360.0 1447.3,330.0" fill="#76d053" stroke="#76d053" stroke-width="0.6"/><polygon points="1446.7,330.0 1448.2,360.0 1451.2,421.0 1455.5,480.0 1458.7,537.0 1460.6,570.0 1462.3,570.0 1460.3,537.0 1456.8,480.0 1453.3,421.0 1451.3,360.0 1450.3,330.0" fill="#70ce57" stroke="#70ce57" stroke-width="0.6"/><polygon points="1449.7,330.0 1450.7,360.0 1452.7,421.0 1456.2,480.0 1459.7,537.0 1461.7,570.0 1463.5,570.0 1461.3,537.0 1457.5,480.0 1454.8,421.0 1453.8,360.0 1453.3,330.0" fill="#68cc5c" stroke="#68cc5c" stroke-width="0.6"/><polygon points="1452.7,330.0 1453.2,360.0 1454.2,421.0 1457.0,480.0 1460.7,537.0 1462.9,570.0 1464.6,570.0 1462.3,537.0 1458.3,480.0 1456.3,421.0 1456.3,360.0 1456.3,330.0" fill="#62ca60" stroke="#62ca60" stroke-width="0.6"/><polygon points="1455.7,330.0 1455.7,360.0 1455.7,421.0 1457.7,480.0 1461.7,537.0 1464.0,570.0 1465.4,570.0 1463.0,537.0 1459.0,480.0 1457.3,421.0 1457.3,360.0 1457.3,330.0" fill="#5cc863" stroke="#5cc863" stroke-width="0.6"/><polygon points="1456.7,330.0 1456.7,360.0 1456.7,421.0 1458.5,480.0 1462.5,537.0 1464.8,570.0 1466.1,570.0 1463.8,537.0 1459.8,480.0 1458.3,421.0 1458.3,360.0 1458.3,330.0" fill="#56c666" stroke="#56c666" stroke-width="0.6"/><polygon points="1457.7,330.0 1457.7,360.0 1457.7,421.0 1459.2,480.0 1463.2,537.0 1465.5,570.0 1466.9,570.0 1464.5,537.0 1460.5,480.0 1459.3,421.0 1459.3,360.0 1459.3,330.0" fill="#52c469" stroke="#52c469" stroke-width="0.6"/><polygon points="1458.7,330.0 1458.7,360.0 1458.7,421.0 1460.0,480.0 1464.0,537.0 1466.3,570.0 1467.6,570.0 1465.3,537.0 1461.3,480.0 1460.3,421.0 1460.3,360.0 1460.3,330.0" fill="#4cc26c" stroke="#4cc26c" stroke-width="0.6"/><polygon points="1459.7,330.0 1459.7,360.0 1459.7,421.0 1460.7,480.0 1464.7,537.0 1467.0,570.0 1469.1,570.0 1466.8,537.0 1462.8,480.0 1461.8,421.0 1461.3,360.0 1461.1,330.0" fill="#45bb71" stroke="#45bb71" stroke-width="0.6"/><polygon points="1460.5,330.0 1460.7,360.0 1461.2,421.0 1462.2,480.0 1466.2,537.0 1468.5,570.0 1470.6,570.0 1468.3,537.0 1464.3,480.0 1463.3,421.0 1462.3,360.0 1461.8,330.0" fill="#3baf79" stroke="#3baf79" stroke-width="0.6"/><polygon points="1461.2,330.0 1461.7,360.0 1462.7,421.0 1463.7,480.0 1467.7,537.0 1470.0,570.0 1472.1,570.0 1469.8,537.0 1465.8,480.0 1464.8,421.0 1463.3,360.0 1462.6,330.0" fill="#30a380" stroke="#30a380" stroke-width="0.6"/><polygon points="1462.0,330.0 1462.7,360.0 1464.2,421.0 1465.2,480.0 1469.2,537.0 1471.5,570.0 1473.6,570.0 1471.3,537.0 1467.3,480.0 1466.3,421.0 1464.3,360.0 1463.3,330.0" fill="#269788" stroke="#269788" stroke-width="0.6"/><polygon points="1462.7,330.0 1463.7,360.0 1465.7,421.0 1466.7,480.0 1470.7,537.0 1473.0,570.0 1475.0,570.0 1472.5,537.0 1468.3,480.0 1467.0,421.0 1464.8,360.0 1463.7,330.0" fill="#228d8c" stroke="#228d8c" stroke-width="0.6"/><polygon points="1463.1,330.0 1464.2,360.0 1466.5,421.0 1467.7,480.0 1472.0,537.0 1474.4,570.0 1476.4,570.0 1473.8,537.0 1469.3,480.0 1467.8,421.0 1465.3,360.0 1464.1,330.0" fill="#25858d" stroke="#25858d" stroke-width="0.6"/><polygon points="1463.5,330.0 1464.7,360.0 1467.2,421.0 1468.7,480.0 1473.2,537.0 1475.8,570.0 1477.8,570.0 1475.0,537.0 1470.3,480.0 1468.5,421.0 1465.8,360.0 1464.4,330.0" fill="#287e8d" stroke="#287e8d" stroke-width="0.6"/><polygon points="1463.8,330.0 1465.2,360.0 1468.0,421.0 1469.7,480.0 1474.5,537.0 1477.2,570.0 1479.2,570.0 1476.3,537.0 1471.3,480.0 1469.3,421.0 1466.3,360.0 1464.8,330.0" fill="#2b768e" stroke="#2b768e" stroke-width="0.6"/><polygon points="1464.2,330.0 1465.7,360.0 1468.7,421.0 1470.7,480.0 1475.7,537.0 1478.6,570.0 1480.2,570.0 1477.3,537.0 1472.3,480.0 1470.3,421.0 1466.8,360.0 1465.1,330.0" fill="#2e6e8e" stroke="#2e6e8e" stroke-width="0.6"/><polygon points="1464.5,330.0 1466.2,360.0 1469.7,421.0 1471.7,480.0 1476.7,537.0 1479.6,570.0 1481.2,570.0 1478.3,537.0 1473.3,480.0 1471.3,421.0 1467.3,360.0 1465.3,330.0" fill="#32668d" stroke="#32668d" stroke-width="0.6"/><polygon points="1464.7,330.0 1466.7,360.0 1470.7,421.0 1472.7,480.0 1477.7,537.0 1480.6,570.0 1482.2,570.0 1479.3,537.0 1474.3,480.0 1472.3,421.0 1467.8,360.0 1465.6,330.0" fill="#355e8c" stroke="#355e8c" stroke-width="0.6"/><polygon points="1465.0,330.0 1467.2,360.0 1471.7,421.0 1473.7,480.0 1478.7,537.0 1481.6,570.0 1483.2,570.0 1480.3,537.0 1475.3,480.0 1473.3,421.0 1468.3,360.0 1465.8,330.0" fill="#39568b" stroke="#39568b" stroke-width="0.6"/><polygon points="1465.2,330.0 1467.7,360.0 1472.7,421.0 1474.7,480.0 1479.7,537.0 1482.6,570.0 1484.6,570.0 1481.5,537.0 1476.3,480.0 1474.0,421.0 1468.8,360.0 1466.2,330.0" fill="#3d4c88" stroke="#3d4c88" stroke-width="0.6"/><polygon points="1465.6,330.0 1468.2,360.0 1473.5,421.0 1475.7,480.0 1481.0,537.0 1484.0,570.0 1486.0,570.0 1482.8,537.0 1477.3,480.0 1474.8,421.0 1469.3,360.0 1466.6,330.0" fill="#404183" stroke="#404183" stroke-width="0.6"/><polygon points="1466.0,330.0 1468.7,360.0 1474.2,421.0 1476.7,480.0 1482.2,537.0 1485.4,570.0 1487.4,570.0 1484.0,537.0 1478.3,480.0 1475.5,421.0 1469.8,360.0 1467.0,330.0" fill="#43367e" stroke="#43367e" stroke-width="0.6"/><polygon points="1466.4,330.0 1469.2,360.0 1475.0,421.0 1477.7,480.0 1483.5,537.0 1486.8,570.0 1488.8,570.0 1485.3,537.0 1479.3,480.0 1476.3,421.0 1470.3,360.0 1467.3,330.0" fill="#462b79" stroke="#462b79" stroke-width="0.6"/><polygon points="1466.7,330.0 1469.7,360.0 1475.7,421.0 1478.7,480.0 1484.7,537.0 1488.2,570.0 1490.2,570.0 1486.5,537.0 1480.3,480.0 1477.0,421.0 1472.3,360.0 1470.0,330.0" fill="#4a2475" stroke="#4a2475" stroke-width="0.6"/><polygon points="1469.4,330.0 1471.7,360.0 1476.5,421.0 1479.7,480.0 1486.0,537.0 1489.6,570.0 1491.6,570.0 1487.8,537.0 1481.3,480.0 1477.8,421.0 1474.3,360.0 1472.6,330.0" fill="#4d2374" stroke="#4d2374" stroke-width="0.6"/><polygon points="1472.0,330.0 1473.7,360.0 1477.2,421.0 1480.7,480.0 1487.2,537.0 1491.0,570.0 1493.0,570.0 1489.0,537.0 1482.3,480.0 1478.5,421.0 1476.3,360.0 1475.2,330.0" fill="#502273" stroke="#502273" stroke-width="0.6"/><polygon points="1474.6,330.0 1475.7,360.0 1478.0,421.0 1481.7,480.0 1488.5,537.0 1492.4,570.0 1494.4,570.0 1490.3,537.0 1483.3,480.0 1479.3,421.0 1478.3,360.0 1477.8,330.0" fill="#532172" stroke="#532172" stroke-width="0.6"/><polygon points="1477.2,330.0 1477.7,360.0 1478.7,421.0 1482.7,480.0 1489.7,537.0 1493.8,570.0 1553.2,570.0 1550.3,537.0 1545.3,480.0 1540.3,421.0 1540.3,360.0 1540.3,330.0" fill="#552071" stroke="#552071" stroke-width="0.6"/><polygon points="1423.2,418.0 1434.0,418.0 1429.8,432.0 1423.6,456.4 1414.2,456.0 1417.3,440.0" fill="url(#legtop)"/></g><text x="1544.4" y="435.59999999999997" font-size="11.5" fill="#444444" text-anchor="middle">0</text><text x="1547.5" y="460.4" font-size="11.5" fill="#444444" text-anchor="middle">1</text><text x="1551" y="488.3" font-size="11.5" fill="#444444" text-anchor="middle">2</text><text x="1555.6" y="520.2" font-size="11.5" fill="#444444" text-anchor="middle">3</text><text x="1560.7" y="557.6" font-size="11.5" fill="#444444" text-anchor="middle">4</text><text transform="translate(1581.7,485) rotate(74)" x="0" y="4.8" font-size="13.6" fill="#444444" text-anchor="middle">iteration</text><text transform="translate(1318.4,487.6) rotate(-68)" x="0" y="4" font-size="11.5" fill="#444444" text-anchor="middle">40k</text><text transform="translate(1342.7,532) rotate(-68)" x="0" y="4" font-size="11.5" fill="#444444" text-anchor="middle">20k</text><g clip-path="url(#clipBb)"><text transform="translate(1325,564.5) rotate(-78)" x="0" y="0" font-size="11.5" fill="#444444" text-anchor="end">−1</text><text transform="translate(1363.5,560.5) rotate(-78)" x="0" y="0" font-size="11.5" fill="#444444" text-anchor="end">0</text><text transform="translate(1381.9,557.5) rotate(-78)" x="0" y="0" font-size="11.5" fill="#444444" text-anchor="end">−0.21</text><text transform="translate(1396,557.5) rotate(-78)" x="0" y="0" font-size="11.5" fill="#444444" text-anchor="end">−0.16</text><text transform="translate(1410.3,557.5) rotate(-78)" x="0" y="0" font-size="11.5" fill="#444444" text-anchor="end">−0.11</text><text transform="translate(1424.6,557.5) rotate(-78)" x="0" y="0" font-size="11.5" fill="#444444" text-anchor="end">−0.06</text><text transform="translate(1438,557.5) rotate(-78)" x="0" y="0" font-size="11.5" fill="#444444" text-anchor="end">−0.00</text><text transform="translate(1452.2,557.5) rotate(-78)" x="0" y="0" font-size="11.5" fill="#444444" text-anchor="end">0.05</text><text transform="translate(1467.3,560.5) rotate(-78)" x="0" y="0" font-size="11.5" fill="#444444" text-anchor="end">0.10</text><text transform="translate(1480.7,560.5) rotate(-78)" x="0" y="0" font-size="11.5" fill="#444444" text-anchor="end">0.5</text><text transform="translate(1495.8,560.5) rotate(-78)" x="0" y="0" font-size="11.5" fill="#444444" text-anchor="end">0.20</text><text transform="translate(1509.2,563.5) rotate(-78)" x="0" y="0" font-size="11.5" fill="#444444" text-anchor="end">0.2-</text><text transform="translate(1524.3,563.5) rotate(-78)" x="0" y="0" font-size="11.5" fill="#444444" text-anchor="end">0.3-</text><text transform="translate(1538.5,565.5) rotate(-78)" x="0" y="0" font-size="11.5" fill="#444444" text-anchor="end">0.3.</text></g></svg>
</body></html>
